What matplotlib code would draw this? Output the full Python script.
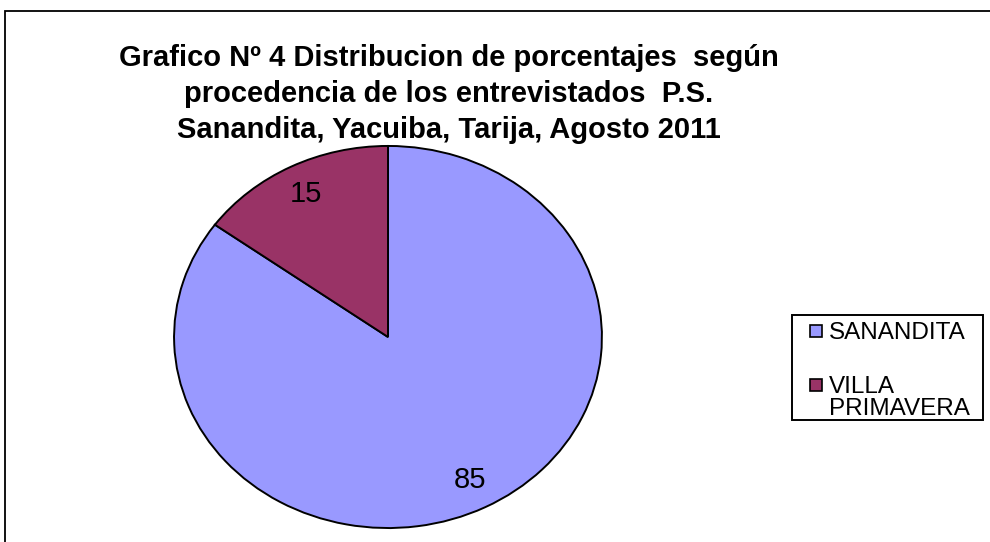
import matplotlib.pyplot as plt
from matplotlib.patches import Rectangle

labels = ['SANANDITA', 'VILLA\nPRIMAVERA']
values = [85, 15]
colors = ['#9999ff', '#993366']
title = ('Grafico Nº 4 Distribucion de porcentajes  según\n'
         'procedencia de los entrevistados  P.S.\n'
         'Sanandita, Yacuiba, Tarija, Agosto 2011')

W, H = 990, 542


def px(x, y):
    # pixel position (from top-left) -> figure fraction
    return x / W, 1 - y / H


def main():
    plt.rcParams['font.family'] = ['Liberation Sans', 'DejaVu Sans']
    fig = plt.figure(figsize=(W / 100, H / 100), dpi=100)

    # outer chart border, runs off the right and bottom edges
    fig.patches.append(Rectangle((5 / W, -0.1), 1.1, (H - 11) / H + 0.1,
                                 transform=fig.transFigure, fill=False,
                                 edgecolor='black', linewidth=1.3))

    cx, cy, rx, ry = 388, 337, 215, 192
    ax = fig.add_axes([(cx - rx) / W, (H - cy - ry) / H, 2 * rx / W, 2 * ry / H])
    wedges, texts, autotexts = ax.pie(
        values, colors=colors, startangle=90, counterclock=False,
        autopct=lambda p: '%.0f' % p, pctdistance=0.84,
        wedgeprops=dict(edgecolor='black', linewidth=1.4),
        textprops=dict(fontsize=21))
    ax.set_aspect('auto')
    ax.set_xlim(-1.005, 1.005)
    ax.set_ylim(-1.005, 1.005)

    fig.text(*px(449, 94), title, ha='center', va='center',
             fontsize=21, fontweight='bold', linespacing=1.38)

    # legend box drawn by hand so it can match the original spacing
    x0, y0, x1, y1 = 792, 315, 983, 420
    fig.patches.append(Rectangle(px(x0, y1), (x1 - x0) / W, (y1 - y0) / H,
                                 transform=fig.transFigure, fill=False,
                                 edgecolor='black', linewidth=1.4))
    rows = [331, 385]
    for lab, col, yy in zip(labels, colors, rows):
        fig.patches.append(Rectangle(px(810, yy + 6), 12 / W, 12 / H,
                                     transform=fig.transFigure,
                                     facecolor=col, edgecolor='black',
                                     linewidth=1.2))
        fig.text(*px(829, yy - 9), lab, ha='left', va='top',
                 fontsize=17.5, linespacing=0.98)

    fig.savefig('out.png', dpi=100)


if __name__ == '__main__':
    main()
